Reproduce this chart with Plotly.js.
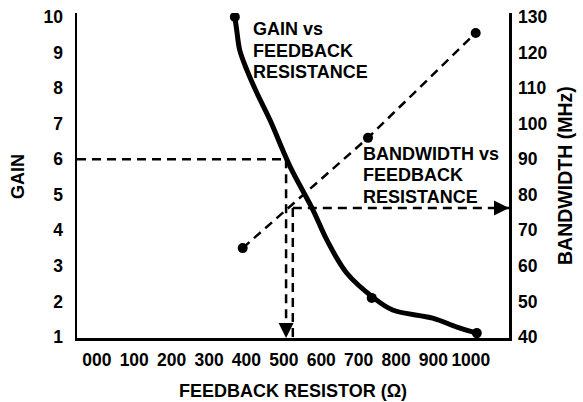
<!DOCTYPE html>
<html>
<head>
<meta charset="utf-8">
<script src="https://cdn.plot.ly/plotly-3.0.1.min.js"></script>
<style>html,body{margin:0;padding:0;background:#fff;}#chart{width:583px;height:402px;}</style>
</head>
<body>
<div id="chart"></div>
<script>
// ---- data ----
const resistorTicks = [0, 100, 200, 300, 400, 500, 600, 700, 800, 900, 1000];
const resistorTickText = ['000', '100', '200', '300', '400', '500', '600', '700', '800', '900', '1000'];
const gainTicks = [1, 2, 3, 4, 5, 6, 7, 8, 9, 10];
const bwTicks = [40, 50, 60, 70, 80, 90, 100, 110, 120, 130];

// gain vs feedback resistance (smooth curve)
const gainR = [369, 374, 382, 401, 428, 463, 497, 521, 578, 615, 668, 738, 791, 898, 963, 1016];
const gainG = [10, 9.63, 9.07, 8.51, 7.86, 7.10, 6.26, 5.70, 4.57, 3.73, 2.80, 2.12, 1.76, 1.53, 1.28, 1.11];
// measured points on the gain curve
const gainDotR = [369, 735, 1016];
const gainDotG = [10, 2.10, 1.11];

// bandwidth vs feedback resistance
const bwR = [390, 725, 1013];
const bwMHz = [65, 96, 125.5];

// reading example: gain of 6 -> resistor -> bandwidth
const exGain = 6;
const exR_gain = 506;
const exR_bw = 524;
const exBW = 76.3;

// text
const gainNote = ['GAIN vs', 'FEEDBACK', 'RESISTANCE'];
const bwNote = ['BANDWIDTH vs', 'FEEDBACK', 'RESISTANCE'];
const xTitle = 'FEEDBACK RESISTOR (Ω)';
const yTitle = 'GAIN';
const y2Title = 'BANDWIDTH (MHz)';

// ---- layout helpers ----
const W = 583, H = 402;
const M = {l: 77, r: 74, t: 13, b: 64};
const PW = W - M.l - M.r, PH = H - M.t - M.b;
const px2x = p => (p - M.l) / PW;          // pixel -> paper x
const px2y = p => (H - M.b - p) / PH;      // pixel -> paper y

const xRange = [-53, 1102];
const gRange = [0.972, 10.11];
const bRange = [39.72, 131.1];

const fam = 'Liberation Sans, Arial, Helvetica, sans-serif';
const tickFont = {family: fam, size: 17.5, color: '#000', weight: 'bold'};
const titleFont = {family: fam, size: 18, color: '#000', weight: 'bold'};
const noteFont = {family: fam, size: 18, color: '#000', weight: 'bold'};
const dashLine = {color: '#000', width: 2.5, dash: '9px,6px'};

const traces = [
  {x: gainR, y: gainG, mode: 'lines', line: {color: '#000', width: 5, shape: 'spline', smoothing: 1}, hoverinfo: 'skip'},
  {x: gainDotR, y: gainDotG, mode: 'markers', marker: {color: '#000', size: 10}, hoverinfo: 'skip'},
  {x: bwR, y: bwMHz, yaxis: 'y2', mode: 'lines+markers', line: dashLine, marker: {color: '#000', size: 10}, hoverinfo: 'skip'}
];

const notes = [];
gainNote.forEach((t, i) => notes.push({xref: 'paper', yref: 'paper', x: px2x(251), y: px2y(29 + i * 21.5),
  xanchor: 'left', yanchor: 'middle', text: t, showarrow: false, font: noteFont}));
bwNote.forEach((t, i) => notes.push({xref: 'paper', yref: 'paper', x: px2x(361), y: px2y(153.5 + i * 21.5),
  xanchor: 'left', yanchor: 'middle', text: t, showarrow: false, font: noteFont}));

const layout = {
  width: W, height: H,
  margin: {l: M.l, r: M.r, t: M.t, b: M.b, pad: 0},
  paper_bgcolor: '#fff', plot_bgcolor: '#fff',
  showlegend: false,
  xaxis: {
    range: xRange, tickvals: resistorTicks, ticktext: resistorTickText,
    showline: true, linecolor: '#000', linewidth: 2.5, ticks: '', showgrid: false, zeroline: false,
    tickfont: tickFont, ticklabelstandoff: 4
  },
  yaxis: {
    range: gRange, tickvals: gainTicks,
    showline: true, linecolor: '#000', linewidth: 2.5, ticks: '', showgrid: false, zeroline: false,
    tickfont: tickFont, ticklabelstandoff: 8
  },
  yaxis2: {
    range: bRange, tickvals: bwTicks, overlaying: 'y', side: 'right',
    showline: true, linecolor: '#000', linewidth: 2.5, ticks: '', showgrid: false, zeroline: false,
    tickfont: tickFont, ticklabelstandoff: 3
  },
  shapes: [
    {type: 'line', xref: 'x', yref: 'y', x0: xRange[0], x1: exR_gain, y0: exGain, y1: exGain, line: dashLine},
    {type: 'line', xref: 'x', yref: 'y', x0: exR_gain, x1: exR_gain, y0: exGain, y1: gRange[0], line: dashLine},
    {type: 'line', xref: 'x', yref: 'y2', x0: exR_bw, x1: exR_bw, y0: exBW, y1: bRange[0], line: dashLine},
    {type: 'line', xref: 'x', yref: 'y2', x0: exR_bw, x1: xRange[1], y0: exBW, y1: exBW, line: dashLine}
  ],
  annotations: [
    {xref: 'x', yref: 'paper', x: exR_gain, y: 0, text: '', showarrow: true, ax: 0, ay: -11,
     arrowhead: 2, arrowsize: 1.2, arrowwidth: 2.5, arrowcolor: '#000'},
    {xref: 'paper', yref: 'y2', x: 1, y: exBW, text: '', showarrow: true, ax: -11, ay: 0,
     arrowhead: 2, arrowsize: 1.2, arrowwidth: 2.5, arrowcolor: '#000'},
    {xref: 'paper', yref: 'paper', x: 0.5, y: px2y(391), xanchor: 'center', yanchor: 'middle',
     text: xTitle, showarrow: false, font: titleFont},
    {xref: 'paper', yref: 'paper', x: px2x(18), y: px2y(177), xanchor: 'center', yanchor: 'middle', textangle: -90,
     text: yTitle, showarrow: false, font: titleFont},
    {xref: 'paper', yref: 'paper', x: px2x(565), y: px2y(176), xanchor: 'center', yanchor: 'middle', textangle: -90,
     text: y2Title, showarrow: false, font: {family: fam, size: 19.5, color: '#000', weight: 'bold'}}
  ].concat(notes)
};

Plotly.newPlot('chart', traces, layout, {displayModeBar: false, staticPlot: true});
</script>
</body>
</html>
